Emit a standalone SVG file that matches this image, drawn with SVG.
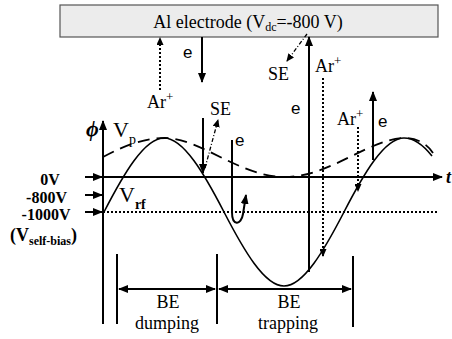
<svg xmlns="http://www.w3.org/2000/svg" width="452" height="339" viewBox="0 0 452 339">
<style>
.ax{stroke:#000;stroke-width:2;fill:none}
.cv{stroke:#000;stroke-width:1.6;fill:none}
.dash{stroke:#000;stroke-width:1.8;fill:none;stroke-dasharray:12,7}
.dot{stroke:#000;stroke-width:2;fill:none;stroke-dasharray:2,2}
.dd{stroke:#000;stroke-width:1.3;fill:none;stroke-dasharray:4,2,1,2}
text{font-family:"Liberation Serif","Times New Roman",serif;fill:#000}
.sans{font-family:"Liberation Sans",Arial,sans-serif}
.b{font-weight:bold}
</style>
<defs>
<marker id="ah" markerUnits="userSpaceOnUse" markerWidth="10" markerHeight="8" refX="9" refY="4" orient="auto"><path d="M0,0 L10,4 L0,8 z" fill="#000"/></marker>
<marker id="ahs" markerUnits="userSpaceOnUse" markerWidth="10" markerHeight="8" refX="9" refY="4" orient="auto-start-reverse"><path d="M0,0 L10,4 L0,8 z" fill="#000"/></marker>
<marker id="ah2" markerUnits="userSpaceOnUse" markerWidth="8" markerHeight="7" refX="7" refY="3.5" orient="auto"><path d="M0,0 L8,3.5 L0,7 z" fill="#000"/></marker>
</defs>

<g id="electrode">
<rect x="60" y="5" width="378" height="32" fill="#ececec" stroke="#555" stroke-width="1.2"/>
<text x="248" y="28" font-size="18" text-anchor="middle">Al electrode (V<tspan font-size="12" dy="3">dc</tspan><tspan dy="-3">=-800 V)</tspan></text>
</g>

<g id="axes">
<path class="ax" d="M103,324 L103,121" marker-end="url(#ah)"/>
<path class="ax" d="M103,177 L442,177" marker-end="url(#ah)"/>
<path class="dot" d="M103,212 L438,212"/>
<path class="ax" d="M85,177 L102,177" marker-end="url(#ah)"/>
<path class="ax" d="M85,195 L102,195" marker-end="url(#ah)"/>
<path class="ax" d="M85,212 L102,212" marker-end="url(#ah)"/>
<text x="86" y="136" font-size="22" class="b" font-style="italic">ϕ</text>
<text x="446" y="183" font-size="18" class="b" font-style="italic">t</text>
<text x="50" y="185" font-size="16" class="b" text-anchor="middle">0V</text>
<text x="46.5" y="203" font-size="16" class="b" text-anchor="middle">-800V</text>
<text x="46" y="220" font-size="16" class="b" text-anchor="middle">-1000V</text>
<text x="10" y="241" font-size="18" class="b">(V<tspan font-size="12" dy="4">self-bias</tspan><tspan dy="-4">)</tspan></text>
</g>

<g id="curves">
<path class="cv" d="M104,212 C123.6,174.1 144.4,138 164,138 C183.6,138 204.4,174.1 224,212 C243.6,249.9 264.4,286 284,286 C303.6,286 324.4,249.9 344,212 C363.6,174.1 384.4,138 404,138 C414,138 424,146 432,156"/>
<path class="dash" d="M103,157 C125,145 145,138 165,138 C200,138 240,177 285,177 C330,177 370,138 405,138 C418,138 428,145 433,153"/>
<text x="113" y="137" font-size="22">V<tspan font-size="14" dy="7">p</tspan></text>
<text x="119" y="202" font-size="22">V<tspan font-size="14" class="b" dy="7">rf</tspan></text>
</g>

<g id="connectors">
<path class="dot" d="M160,90 L160,38" marker-end="url(#ah2)"/>
<path class="ax" d="M202,37 L202,82" marker-end="url(#ah)"/>
<path class="dd" d="M307,34 L287,61" marker-end="url(#ah2)"/>
<path class="ax" d="M309,272 L309,37" marker-end="url(#ah)"/>
<path class="dot" d="M323,78 L323,256" marker-end="url(#ah2)"/>
<path class="ax" d="M373,160 L373,92" marker-end="url(#ah)"/>
<path class="dot" d="M358,127 L358,191" marker-end="url(#ah2)"/>
<path class="ax" d="M203,118 L203,173" marker-end="url(#ah)"/>
<path class="dd" d="M205,168 L218,120" marker-end="url(#ah2)"/>
<path class="ax" d="M232,140 L232,212 C232,226 241,226 243,214 L246,195" marker-end="url(#ah)"/>
</g>

<g id="labels">
<text x="147" y="108" font-size="18">Ar<tspan font-size="13" dy="-7">+</tspan></text>
<text x="183" y="58" font-size="17" class="sans">e</text>
<text x="268" y="80" font-size="18">SE</text>
<text x="315" y="72" font-size="18">Ar<tspan font-size="13" dy="-7">+</tspan></text>
<text x="291" y="114" font-size="17" class="sans">e</text>
<text x="337" y="125" font-size="18">Ar<tspan font-size="13" dy="-7">+</tspan></text>
<text x="378" y="127" font-size="17" class="sans">e</text>
<text x="210" y="115" font-size="18">SE</text>
<text x="235" y="146" font-size="17" class="sans">e</text>
</g>

<g id="phases">
<path class="ax" d="M117,254 L117,324"/>
<path class="ax" d="M217,254 L217,324"/>
<path class="ax" d="M353,256 L353,327"/>
<path class="ax" d="M119,289 L215,289" marker-start="url(#ahs)" marker-end="url(#ah)"/>
<path class="ax" d="M219,289 L351,289" marker-start="url(#ahs)" marker-end="url(#ah)"/>
<text x="168" y="308" font-size="18" text-anchor="middle">BE</text>
<text x="167" y="329" font-size="18" text-anchor="middle">dumping</text>
<text x="289" y="308" font-size="18" text-anchor="middle">BE</text>
<text x="288" y="329" font-size="18" text-anchor="middle">trapping</text>
</g>
</svg>
